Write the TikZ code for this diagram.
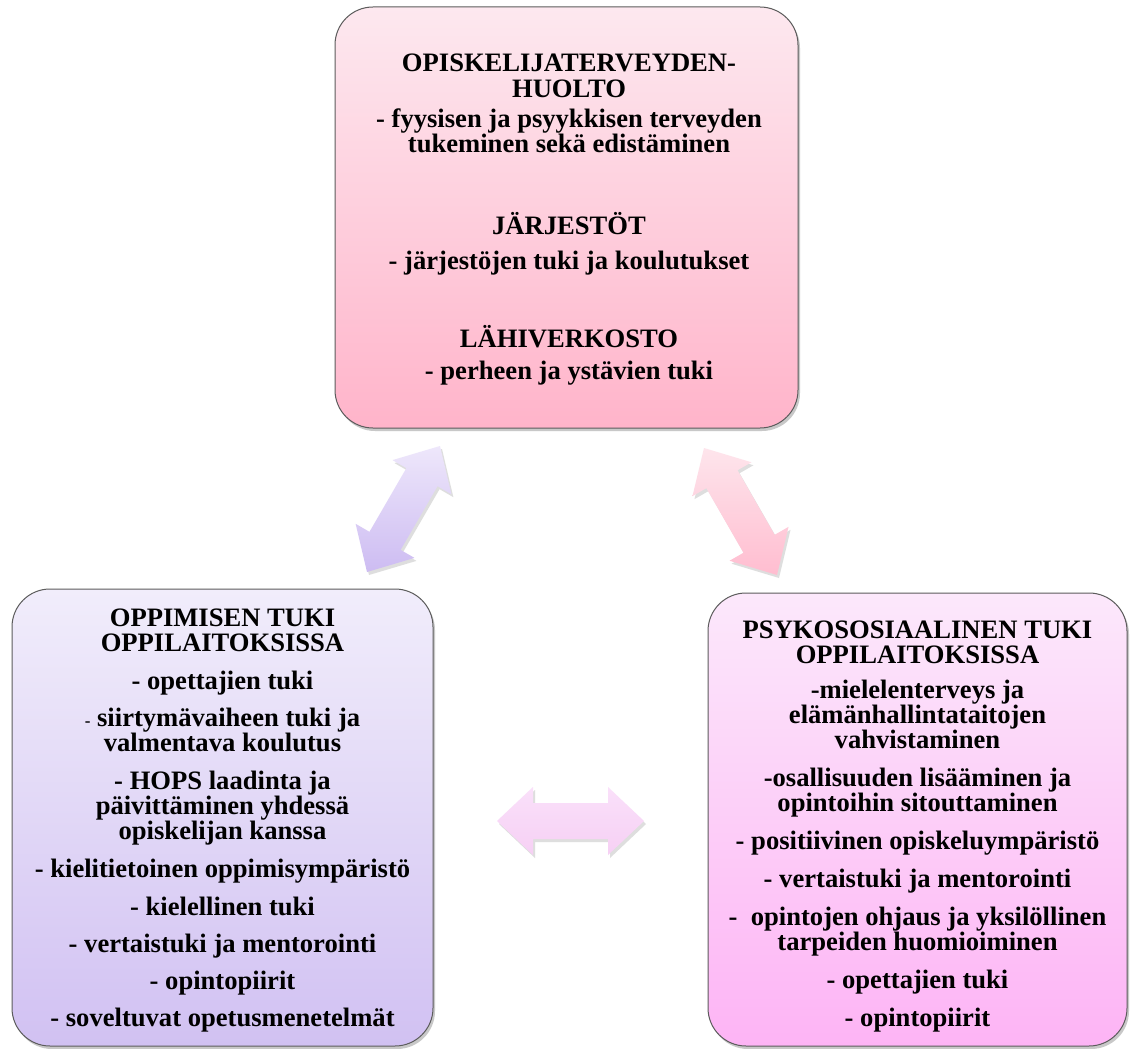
\documentclass[tikz,border=0pt]{standalone}
\usepackage{fontspec}
\setmainfont{Liberation Serif}
\usetikzlibrary{calc,shadows}
\definecolor{topA}{HTML}{FDE8EF}
\definecolor{topB}{HTML}{FFB4CA}
\definecolor{leftA}{HTML}{F1EDFB}
\definecolor{leftB}{HTML}{D1C1F2}
\definecolor{rightA}{HTML}{FCE8FB}
\definecolor{rightB}{HTML}{FDB4F5}
\definecolor{arLA}{HTML}{EEE7FB}
\definecolor{arLB}{HTML}{CDBCF2}
\definecolor{arRA}{HTML}{FEE5EC}
\definecolor{arRB}{HTML}{FFBDD0}
\definecolor{arHA}{HTML}{FAE0FA}
\definecolor{arHB}{HTML}{F6D0F4}
\definecolor{edge}{HTML}{5C5C5C}
\newcommand\dblarrow[3]{%
  \coordinate (#1h) at ($(#1)!36pt!(#2)$);
  \coordinate (#2h) at ($(#2)!36pt!(#1)$);
  \path[#3] (#1) -- ($(#1h)!34pt!90:(#2)$) -- ($(#1h)!18pt!90:(#2)$)
    -- ($(#2h)!18pt!-90:(#1)$) -- ($(#2h)!34pt!-90:(#1)$) -- (#2)
    -- ($(#2h)!34pt!90:(#1)$) -- ($(#2h)!18pt!90:(#1)$)
    -- ($(#1h)!18pt!-90:(#2)$) -- ($(#1h)!34pt!-90:(#2)$) -- cycle;}
\begin{document}
\begin{tikzpicture}[x=1pt,y=-1pt,
  box/.style={draw=edge, line width=1pt, rounded corners=38pt, inner sep=0pt,
    drop shadow={shadow xshift=2pt, shadow yshift=-3pt, opacity=0.3, fill=black!70}},
  arr/.style={draw=none,
    drop shadow={shadow xshift=2pt, shadow yshift=-3pt, opacity=0.18, fill=black!70}},
  txt/.style={anchor=base, inner sep=0pt, text height=17.5pt, text depth=4.5pt,
    font=\fontsize{26.6pt}{25pt}\selectfont\bfseries}]
\useasboundingbox[fill=white] (0,0) rectangle (1130,1049);

% boxes
\node[box, top color=topA, bottom color=topB, minimum width=463pt, minimum height=421pt] (topbox) at (566.5,217.5) {};
\node[box, top color=leftA, bottom color=leftB, minimum width=421pt, minimum height=457pt] (leftbox) at (222.5,817.5) {};
\node[box, top color=rightA, bottom color=rightB, minimum width=419pt, minimum height=453pt] (rightbox) at (917.5,819.5) {};

% arrows
\coordinate (la1) at (367,572);
\coordinate (la2) at (440,446);
\coordinate (ra1) at (704,448);
\coordinate (ra2) at (777,575);
\coordinate (ha1) at (497,821);
\coordinate (ha2) at (644,821);
\dblarrow{la1}{la2}{arr, top color=arLA, bottom color=arLB}
\dblarrow{ra1}{ra2}{arr, top color=arRA, bottom color=arRB}
\dblarrow{ha1}{ha2}{arr, top color=arHA, bottom color=arHB}

% top box text
\foreach \yy/\ln [count=\i] in {
  72/OPISKELIJATERVEYDEN-,
  97/HUOLTO,
  127/- fyysisen ja psyykkisen terveyden,
  152/tukeminen sekä edistäminen,
  234/JÄRJESTÖT,
  269/- järjestöjen tuki ja koulutukset,
  347/LÄHIVERKOSTO,
  379/- perheen ja ystävien tuki}
  \node[txt] (T\i) at (569,\yy) {\ln};

% left box text
\foreach \yy/\ln [count=\i] in {
  626/OPPIMISEN TUKI,
  651/OPPILAITOKSISSA,
  689/- opettajien tuki,
  726/{{\fontsize{17pt}{17pt}\selectfont -} siirtymävaiheen tuki ja},
  751/valmentava koulutus,
  789/- HOPS laadinta ja,
  814/päivittäminen yhdessä,
  839/opiskelijan kanssa,
  877/- kielitietoinen oppimisympäristö,
  915/- kielellinen tuki,
  952/- vertaistuki ja mentorointi,
  989/- opintopiirit,
  1026/- soveltuvat opetusmenetelmät}
  \node[txt] (L\i) at (222.5,\yy) {\ln};

% right box text
\foreach \yy/\ln [count=\i] in {
  638/PSYKOSOSIAALINEN TUKI,
  663/OPPILAITOKSISSA,
  698/-mielelenterveys ja,
  723/elämänhallintataitojen,
  748/vahvistaminen,
  786/-osallisuuden lisääminen ja,
  811/opintoihin sitouttaminen,
  849/- positiivinen opiskeluympäristö,
  887/- vertaistuki ja mentorointi,
  925/{-\ \ opintojen ohjaus ja yksilöllinen},
  950/tarpeiden huomioiminen,
  988/- opettajien tuki,
  1026/- opintopiirit}
  \node[txt] (R\i) at (917.5,\yy) {\ln};
\end{tikzpicture}
\end{document}
